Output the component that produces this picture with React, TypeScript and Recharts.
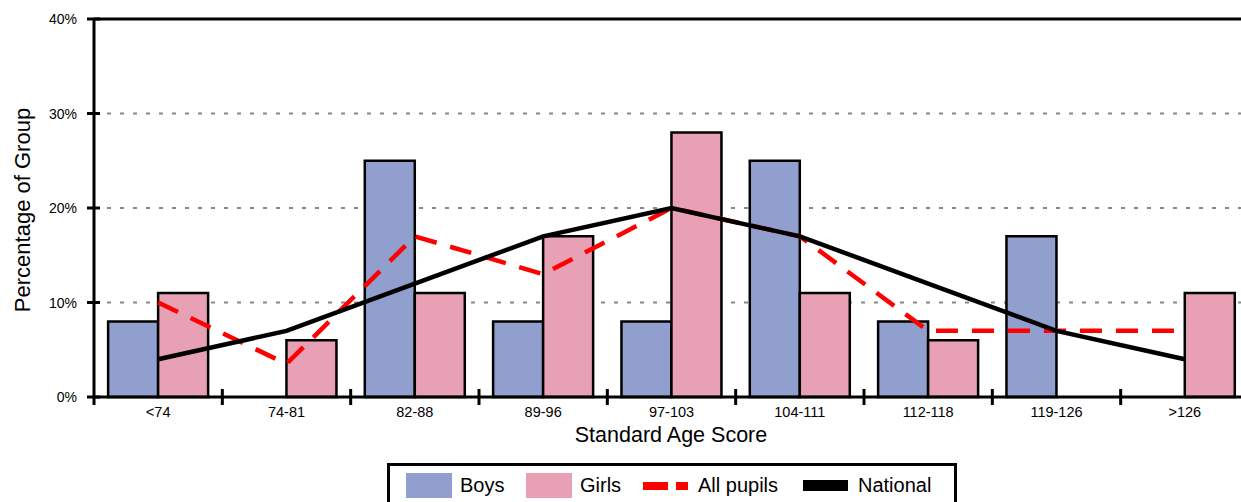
import React from 'react';
import { ComposedChart, Bar, Line, XAxis, YAxis, CartesianGrid, ReferenceLine } from 'recharts';

const categories = ['<74', '74-81', '82-88', '89-96', '97-103', '104-111', '112-118', '119-126', '>126'];
const boys = [8, null, 25, 8, 8, 25, 8, 17, null];
const girls = [11, 6, 11, 17, 28, 11, 6, null, 11];
const allPupils = [10, 3.5, 17, 13, 20, 17, 7, 7, 7];
const national = [4, 7, 12, 17, 20, 17, 12, 7, 4];
const yTicks = [0, 10, 20, 30, 40];

const data = categories.map((name, i) => ({
  name,
  boys: boys[i],
  girls: girls[i],
  allPupils: allPupils[i],
  national: national[i],
}));

// layout
const PLOT_LEFT = 94;
const PLOT_RIGHT = 1249;
const PLOT_TOP = 19;
const PLOT_BOTTOM = 397;
const BAND = (PLOT_RIGHT - PLOT_LEFT) / categories.length;
const FONT = 'Liberation Sans, Arial, sans-serif';

const YTick = (props: any) => {
  const { y, payload } = props;
  return (
    <g>
      <line x1={PLOT_LEFT - 7} x2={PLOT_LEFT + 6} y1={y} y2={y} stroke="#000" strokeWidth={3} />
      {payload.value === 0 && (
        <line x1={PLOT_LEFT} x2={PLOT_LEFT} y1={y} y2={y + 8} stroke="#000" strokeWidth={3} />
      )}
      <text x={77} y={y + 5} textAnchor="end" fontSize={14} fontFamily={FONT} fill="#000">
        {payload.value}%
      </text>
    </g>
  );
};

const XTick = (props: any) => {
  const { x, payload, index } = props;
  const bx = x + BAND / 2;
  return (
    <g>
      {index < categories.length - 1 && (
        <line x1={bx} x2={bx} y1={PLOT_BOTTOM - 8} y2={PLOT_BOTTOM + 8} stroke="#000" strokeWidth={3} />
      )}
      <text x={x} y={PLOT_BOTTOM + 20} textAnchor="middle" fontSize={14.5} fontFamily={FONT} fill="#000">
        {payload.value}
      </text>
    </g>
  );
};

const swatch = (left: number, color: string): React.CSSProperties => ({
  position: 'absolute', left, top: 7, width: 46, height: 25, background: color,
});
const label = (left: number): React.CSSProperties => ({
  position: 'absolute', left, top: 7, fontSize: 20, lineHeight: '25px', fontFamily: FONT, color: '#000',
});

export default function App() {
  return (
    <div style={{ position: 'absolute', left: 0, top: 0, width: 1241, height: 502, overflow: 'hidden', background: '#fff' }}>
      <ComposedChart
        width={1250}
        height={502}
        data={data}
        margin={{ top: PLOT_TOP, right: 1250 - PLOT_RIGHT, bottom: 502 - PLOT_BOTTOM - 30, left: PLOT_LEFT - 60 }}
        barGap={0}
        barCategoryGap="11%"
      >
        <CartesianGrid vertical={false} stroke="#888" strokeDasharray="4 9" strokeWidth={2} />
        <XAxis
          dataKey="name"
          height={30}
          interval={0}
          tickLine={false}
          axisLine={{ stroke: '#000', strokeWidth: 3 }}
          tick={<XTick />}
        />
        <YAxis
          width={60}
          domain={[0, 40]}
          ticks={yTicks}
          tickLine={false}
          axisLine={{ stroke: '#000', strokeWidth: 3 }}
          tick={<YTick />}
        />
        <ReferenceLine y={40} stroke="#000" strokeWidth={3} />
        <Bar dataKey="boys" fill="#909fcd" stroke="#000" strokeWidth={2.5} isAnimationActive={false} />
        <Bar dataKey="girls" fill="#e8a0b5" stroke="#000" strokeWidth={2.5} isAnimationActive={false} />
        <Line
          type="linear"
          dataKey="allPupils"
          stroke="#ff0000"
          strokeWidth={4.5}
          strokeDasharray="22 14"
          dot={false}
          isAnimationActive={false}
        />
        <Line
          type="linear"
          dataKey="national"
          stroke="#000"
          strokeWidth={4.5}
          dot={false}
          isAnimationActive={false}
        />
      </ComposedChart>

      <div
        style={{
          position: 'absolute', left: 0, top: 210, width: 0, height: 0,
        }}
      >
        <div
          style={{
            position: 'absolute', left: 23, top: 0, transform: 'translate(-50%, -50%) rotate(-90deg)',
            whiteSpace: 'nowrap', fontSize: 22, fontFamily: FONT, color: '#000',
          }}
        >
          Percentage of Group
        </div>
      </div>

      <div
        style={{
          position: 'absolute', left: 521, top: 423, width: 300, textAlign: 'center',
          fontSize: 21.5, fontFamily: FONT, color: '#000', whiteSpace: 'nowrap',
        }}
      >
        Standard Age Score
      </div>

      <div
        style={{
          position: 'absolute', left: 387, top: 463, width: 564, height: 50,
          border: '3px solid #000', boxSizing: 'content-box',
        }}
      >
        <div style={swatch(16, '#909fcd')} />
        <div style={label(70)}>Boys</div>
        <div style={swatch(136, '#e8a0b5')} />
        <div style={label(190)}>Girls</div>
        <div style={{ position: 'absolute', left: 253, top: 16, width: 25, height: 8, background: '#ff0000' }} />
        <div style={{ position: 'absolute', left: 286, top: 16, width: 12, height: 8, background: '#ff0000' }} />
        <div style={label(308)}>All pupils</div>
        <div style={{ position: 'absolute', left: 413, top: 14, width: 45, height: 11, background: '#000' }} />
        <div style={label(468)}>National</div>
      </div>
    </div>
  );
}
